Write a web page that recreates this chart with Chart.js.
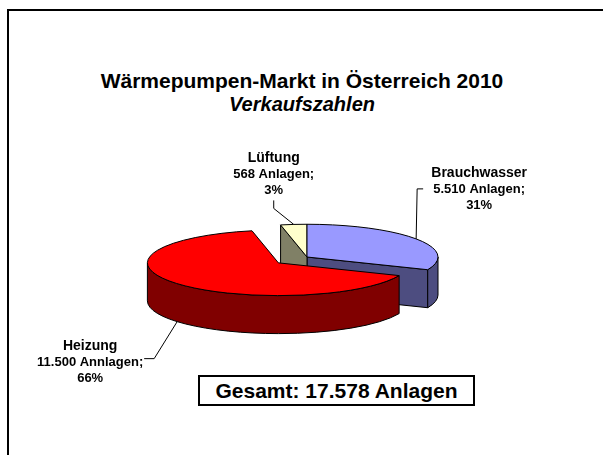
<!DOCTYPE html>
<html lang="de">
<head>
<meta charset="UTF-8">
<title>Wärmepumpen-Markt in Österreich 2010</title>
<style>
    body {
        margin: 0;
        background: #fff;
        font-family: "Liberation Sans", Arial, sans-serif;
    }

    #wrap {
        position: relative;
        width: 603px;
        height: 455px;
        overflow: hidden;
    }

    #frame {
        position: absolute;
        left: 7px;
        top: 9px;
        width: 700px;
        height: 600px;
        border: 2px solid #000;
    }

    #title {
        position: absolute;
        left: 0;
        top: 69px;
        width: 604px;
        text-align: center;
        font-size: 21px;
        font-weight: bold;
        line-height: 23px;
    }

    #title i {
        font-size: 20px;
    }

    #chartBox {
        position: absolute;
        left: 0;
        top: 0;
        width: 603px;
        height: 455px;
    }

    #total {
        position: absolute;
        left: 198px;
        top: 375px;
        width: 277px;
        height: 31px;
        box-sizing: border-box;
        border: 2px solid #000;
        background: #fff;
        font-size: 21px;
        font-weight: bold;
        text-align: center;
        line-height: 27px;
    }
</style>
<script src="https://cdn.jsdelivr.net/npm/chart.js"></script>
</head>
<body>
<div id="wrap">
    <div id="frame"></div>
    <div id="title">Wärmepumpen-Markt in Österreich 2010<br><i>Verkaufszahlen</i></div>
    <div id="chartBox"><canvas id="pieChart"></canvas></div>
    <div id="total"></div>
</div>
<script>
    // Daten
    const categories = ['Brauchwasser', 'Heizung', 'Lüftung'];
    const anlagen = [5510, 11500, 568];
    const anlagenText = ['5.510 Anlagen;', '11.500 Annlagen;', '568 Anlagen;'];
    const prozentText = ['31%', '66%', '3%'];

    // Farben: Oberseite und Seitenwand
    const topColors = ['#9999FF', '#FF0000', '#FFFFCC'];
    const sideColors = ['#4D4D80', '#800000', '#808066'];

    // Beschriftung relativ zum Randpunkt des Segments
    const labelPlace = [
        { elbow: [1, -50], end: [7, -50], text: [63, -46] },
        { elbow: [-23, 37], end: [-33, 37], text: [-87, 44] },
        { elbow: [-20, -16], end: [-20, -24], text: [-20, -46] }
    ];

    const FONT = '"Liberation Sans", Arial, sans-serif';

    function rim(s, a, dz) {
        return [s.cx + s.r * Math.cos(a), s.cy + s.ry * Math.sin(a) + dz];
    }

    // Zeichnet die Segmente als gekippte 3D-Torte
    const pie3d = {
        id: 'pie3d',
        beforeDatasetsDraw(chart, args, opts) {
            const ctx = chart.ctx;
            const k = opts.tilt, h = opts.depth;
            const slices = chart.getDatasetMeta(0).data.map((arc, i) => {
                const p = arc.getProps(['x', 'y', 'startAngle', 'endAngle', 'outerRadius']);
                const mid = (p.startAngle + p.endAngle) / 2;
                const off = arc.options.offset || 0;
                return {
                    i: i, a0: p.startAngle, a1: p.endAngle, mid: mid,
                    r: p.outerRadius, ry: p.outerRadius * k,
                    cx: p.x + Math.cos(mid) * off,
                    cy: p.y + Math.sin(mid) * off * k,
                    top: arc.options.backgroundColor,
                    side: opts.sideColors[i]
                };
            });
            chart.$slices = slices;

            ctx.save();
            ctx.lineWidth = 1;
            ctx.strokeStyle = '#000';
            ctx.lineJoin = 'round';

            // Schnittflächen
            slices.forEach(s => {
                [[s.a0, Math.cos(s.a0) < -1e-3], [s.a1, Math.cos(s.a1) > 1e-3]].forEach(([a, show]) => {
                    if (!show) return;
                    const [x, y] = rim(s, a, 0);
                    ctx.beginPath();
                    ctx.moveTo(s.cx, s.cy);
                    ctx.lineTo(x, y);
                    ctx.lineTo(x, y + h);
                    ctx.lineTo(s.cx, s.cy + h);
                    ctx.closePath();
                    ctx.fillStyle = s.side;
                    ctx.fill();
                    ctx.stroke();
                });
            });

            // vordere Mantelfläche
            slices.forEach(s => {
                [0, 2 * Math.PI].forEach(base => {
                    const from = Math.max(s.a0, base), to = Math.min(s.a1, base + Math.PI);
                    if (to - from < 1e-3) return;
                    ctx.beginPath();
                    ctx.ellipse(s.cx, s.cy, s.r, s.ry, 0, from, to);
                    ctx.ellipse(s.cx, s.cy + h, s.r, s.ry, 0, to, from, true);
                    ctx.closePath();
                    ctx.fillStyle = s.side;
                    ctx.fill();
                    ctx.stroke();
                });
            });

            // Oberseiten, von hinten nach vorne
            slices.slice().sort((a, b) => Math.sin(a.mid) - Math.sin(b.mid)).forEach(s => {
                ctx.beginPath();
                ctx.moveTo(s.cx, s.cy);
                ctx.ellipse(s.cx, s.cy, s.r, s.ry, 0, s.a0, s.a1);
                ctx.closePath();
                ctx.fillStyle = s.top;
                ctx.fill();
                ctx.stroke();
            });
            ctx.restore();
            return false;
        },
        afterDraw(chart, args, opts) {
            const slices = chart.$slices;
            if (!slices) return;
            const ctx = chart.ctx;
            ctx.save();
            ctx.strokeStyle = '#000';
            ctx.fillStyle = '#000';
            ctx.lineWidth = 1;
            ctx.textAlign = 'center';
            ctx.textBaseline = 'alphabetic';
            slices.forEach(s => {
                const front = Math.sin(s.mid) > 0;
                const [ax, ay] = rim(s, s.mid, front ? opts.depth : 0);
                const pl = opts.place[s.i];
                ctx.beginPath();
                ctx.moveTo(ax, ay);
                ctx.lineTo(ax + pl.elbow[0], ay + pl.elbow[1]);
                ctx.lineTo(ax + pl.end[0], ay + pl.end[1]);
                ctx.stroke();
                const tx = ax + pl.text[0], ty = ay + pl.text[1];
                ctx.font = 'bold 14px ' + FONT;
                ctx.fillText(chart.data.labels[s.i], tx, ty - 16);
                ctx.font = 'bold 13px ' + FONT;
                ctx.fillText(anlagenText[s.i], tx, ty);
                ctx.fillText(prozentText[s.i], tx, ty + 16);
            });
            ctx.restore();
        }
    };

    const gesamt = anlagen.reduce((a, b) => a + b, 0);
    document.getElementById('total').textContent =
        'Gesamt: ' + String(gesamt).replace(/\B(?=(\d{3})+(?!\d))/g, '.') + ' Anlagen';

    new Chart(document.getElementById('pieChart'), {
        type: 'pie',
        data: {
            labels: categories,
            datasets: [{
                data: anlagen,
                backgroundColor: topColors,
                offset: [0, 37, 0]
            }]
        },
        options: {
            responsive: true,
            maintainAspectRatio: false,
            animation: false,
            radius: 131,
            layout: { padding: { left: 11, right: 0, top: 100, bottom: 41 } },
            plugins: {
                legend: { display: false },
                tooltip: { enabled: false },
                pie3d: { tilt: 0.25, depth: 38, sideColors: sideColors, place: labelPlace }
            }
        },
        plugins: [pie3d]
    });
</script>
</body>
</html>
